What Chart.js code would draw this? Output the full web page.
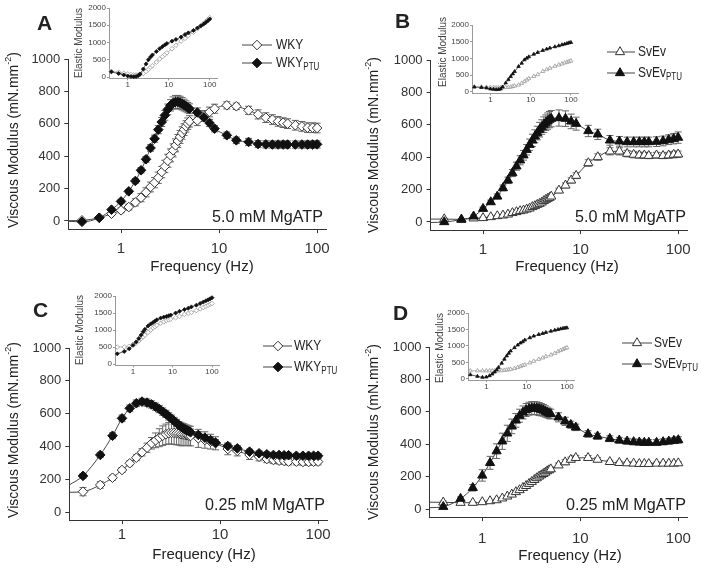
<!DOCTYPE html>
<html>
<head>
<meta charset="utf-8">
<script src="https://cdn.jsdelivr.net/npm/chart.js@4/dist/chart.umd.min.js"></script>
<style>
  body { margin: 0; background: #fff; width: 714px; height: 572px; overflow: hidden; position: relative; }
  canvas { position: absolute; }
</style>
</head>
<body>
<script>
const INK = '#222';
const FONT = '"Liberation Sans", Arial, Helvetica, sans-serif';

// frequencies (Hz) of the main panels
const FREQ = [0.4, 0.6, 0.8, 1, 1.2, 1.4, 1.6, 1.8, 2, 2.2, 2.4, 2.6, 2.8, 3, 3.2, 3.4, 3.6, 3.8, 4, 4.2, 4.4, 4.6, 4.8, 5,
  6, 7, 8, 9, 12, 15, 20, 25, 30, 35, 40, 45, 50, 60, 70, 80, 90, 100];
const X_TICKS = [1, 10, 100];
const Y_TICKS = [0, 200, 400, 600, 800, 1000];
const IN_Y_TICKS = [0, 500, 1000, 1500, 2000];

// A: WKY, 5.0 mM MgATP (viscous modulus, mN.mm-2)
const wkyA = [4, 20, 45, 66, 86, 115, 144, 177, 210, 237, 267, 302, 337, 372, 405, 436, 467, 494, 519, 543, 564, 584, 601, 615,
  621, 652, 673, 693, 714, 708, 683, 658, 638, 626, 615, 607, 601, 591, 584, 576, 576, 574];
const wkyErrA = [5, 8, 10, 15, 18, 22, 25, 28, 30, 32, 35, 35, 38, 40, 40, 40, 40, 40, 40, 38, 36, 35, 35, 35,
  32, 30, 30, 28, 22, 20, 25, 28, 30, 30, 30, 30, 30, 30, 30, 30, 30, 30];
const wkyPtuA = [-5, 20, 70, 121, 183, 247, 313, 381, 451, 508, 564, 611, 652, 689, 714, 728, 735, 735, 730, 724, 716, 708, 700, 693,
  670, 640, 605, 570, 529, 498, 488, 475, 473, 472, 472, 472, 472, 472, 472, 472, 472, 473];
const wkyPtuErrA = [5, 5, 8, 10, 12, 14, 16, 18, 20, 22, 25, 28, 30, 33, 35, 38, 40, 40, 40, 38, 36, 34, 32, 30,
  28, 25, 22, 20, 20, 20, 22, 22, 22, 22, 22, 22, 22, 22, 22, 22, 22, 22];

// B: SvEv, 5.0 mM MgATP
const svevB = [18, 16, 23, 25, 31, 37, 41, 47, 56, 62, 68, 72, 78, 84, 93, 99, 107, 113, 121, 130, 138, 144, 150, 158,
  195, 226, 257, 286, 364, 401, 436, 436, 422, 416, 412, 412, 409, 412, 409, 412, 416, 418];
const svevErrB = [5, 5, 5, 5, 5, 5, 5, 6, 6, 6, 7, 7, 8, 8, 8, 9, 9, 10, 10, 10, 10, 11, 11, 12,
  14, 15, 16, 18, 20, 20, 22, 22, 20, 20, 18, 18, 18, 18, 18, 18, 20, 20];
const svevPtuB = [0, 15, 35, 82, 123, 158, 210, 257, 302, 344, 381, 412, 446, 477, 504, 529, 549, 570, 586, 601, 613, 623, 632, 638,
  642, 638, 621, 607, 562, 541, 504, 498, 494, 494, 494, 494, 494, 496, 500, 508, 514, 521];
const svevPtuErrB = [5, 5, 8, 10, 12, 15, 18, 20, 22, 25, 28, 30, 32, 35, 38, 40, 42, 45, 45, 48, 48, 50, 50, 50,
  50, 48, 45, 40, 35, 32, 30, 30, 30, 30, 30, 30, 30, 30, 30, 30, 32, 35];

// C: WKY, 0.25 mM MgATP
const wkyC = [124, 165, 209, 256, 297, 331, 364, 392, 419, 437, 453, 465, 474, 480, 482, 482, 480, 478, 474, 472, 470, 468, 465, 463,
  449, 439, 429, 419, 384, 372, 348, 337, 323, 317, 313, 311, 307, 307, 305, 305, 307, 307];
const wkyErrC = [25, 20, 15, 15, 15, 18, 22, 28, 35, 45, 55, 60, 62, 65, 68, 70, 70, 70, 70, 68, 65, 62, 60, 60,
  55, 50, 45, 40, 35, 30, 28, 25, 22, 22, 20, 20, 20, 20, 20, 20, 20, 20];
const wkyPtuC = [220, 348, 465, 571, 632, 663, 673, 667, 656, 642, 628, 612, 598, 583, 569, 555, 543, 530, 520, 510, 504, 498, 492, 486,
  470, 453, 439, 423, 402, 388, 368, 358, 352, 348, 348, 346, 346, 343, 343, 343, 343, 343];
const wkyPtuErrC = [15, 15, 18, 20, 20, 20, 20, 22, 22, 22, 22, 22, 22, 22, 22, 22, 22, 22, 22, 20, 20, 20, 20, 20,
  20, 20, 20, 18, 18, 16, 15, 14, 14, 14, 14, 14, 14, 14, 14, 14, 14, 14];

// D: SvEv, 0.25 mM MgATP
const svevD = [41, 39, 39, 43, 49, 55, 66, 78, 90, 105, 117, 131, 143, 156, 168, 180, 191, 201, 209, 217, 225, 234, 240, 246,
  270, 289, 305, 316, 316, 305, 291, 285, 283, 281, 279, 279, 279, 281, 281, 281, 281, 283];
const svevErrD = [8, 6, 5, 5, 5, 5, 6, 6, 7, 7, 8, 8, 9, 9, 10, 10, 10, 11, 11, 12, 12, 12, 12, 13,
  14, 15, 15, 15, 14, 12, 10, 10, 8, 8, 8, 8, 8, 8, 8, 8, 8, 8];
const svevPtuD = [14, 64, 131, 207, 285, 357, 418, 467, 510, 547, 576, 596, 611, 619, 623, 623, 621, 617, 613, 609, 602, 596, 590, 586,
  566, 541, 520, 504, 463, 449, 434, 424, 418, 414, 412, 410, 410, 410, 414, 418, 422, 426];
const svevPtuErrD = [8, 10, 20, 35, 40, 45, 50, 50, 45, 42, 40, 40, 40, 40, 40, 40, 40, 40, 38, 36, 35, 33, 32, 30,
  28, 25, 22, 20, 20, 18, 18, 18, 18, 18, 18, 18, 18, 18, 18, 18, 18, 20];

// where the curves meet the left axis [control, PTU]
const leadA = [2, -2];
const leadB = [18, -3];
const leadC = [120, 165];
const leadD = [42, 8];

// inset: elastic modulus
const IN_FREQ = [0.4, 0.6, 0.8, 1, 1.2, 1.4, 1.6, 1.8, 2, 2.4, 2.8, 3.2, 3.6, 4, 5, 6, 7, 8, 9, 12, 15, 20, 25, 30, 40, 50, 60, 70, 80, 90, 100];
const inWkyA = [160, 140, 110, 90, 70, 60, 60, 60, 70, 100, 160, 220, 280, 330, 430, 520, 590, 650, 700, 820, 920, 1040, 1120, 1200, 1300, 1400, 1480, 1550, 1610, 1670, 1720];
const inWkyPtuA = [150, 100, 60, 30, 15, 10, 15, 40, 90, 230, 380, 500, 580, 640, 740, 820, 880, 930, 970, 1040, 1090, 1160, 1230, 1280, 1350, 1420, 1480, 1530, 1580, 1630, 1680];
const inSvevB = [150, 150, 145, 140, 135, 130, 130, 130, 130, 135, 140, 150, 165, 180, 210, 260, 310, 360, 400, 470, 520, 615, 670, 710, 770, 810, 840, 870, 890, 910, 930];
const inSvevPtuB = [150, 135, 120, 90, 80, 70, 75, 90, 150, 270, 370, 460, 540, 610, 760, 860, 960, 1010, 1050, 1130, 1180, 1240, 1280, 1310, 1350, 1380, 1410, 1430, 1450, 1470, 1480];
const inWkyC = [500, 500, 520, 580, 620, 680, 740, 800, 850, 930, 1000, 1060, 1100, 1140, 1200, 1240, 1280, 1300, 1320, 1360, 1400, 1460, 1490, 1520, 1570, 1620, 1660, 1700, 1730, 1760, 1780];
const inWkyPtuC = [300, 370, 450, 550, 650, 750, 850, 950, 1020, 1120, 1180, 1220, 1260, 1300, 1350, 1380, 1400, 1420, 1440, 1500, 1550, 1600, 1640, 1680, 1730, 1780, 1820, 1860, 1890, 1920, 1950];
const inSvevD = [250, 250, 250, 250, 250, 250, 250, 250, 250, 255, 265, 275, 285, 295, 320, 350, 380, 410, 430, 490, 540, 600, 640, 680, 730, 780, 830, 870, 900, 930, 950];
const inSvevPtuD = [130, 80, 50, 60, 100, 150, 210, 280, 350, 480, 600, 700, 780, 850, 950, 1030, 1090, 1130, 1180, 1250, 1300, 1350, 1380, 1410, 1450, 1480, 1500, 1520, 1535, 1545, 1550];

const MAIN_X = [0.29, 125];
const MAIN_Y = [-50, 1000];
const IN_X = [0.35, 150];
const IN_Y = [-40, 2000];

const panels = [
  { letter: 'A', names: ['WKY', 'WKY'], note: '5.0 mM MgATP', shape: 'rectRot',
    ctl: wkyA, ctlErr: wkyErrA, ptu: wkyPtuA, ptuErr: wkyPtuErrA, lead: leadA,
    box: [0, 0, 357, 286], area: [68.3, 59, 326.6, 229.1], xPad: 7,
    letterAt: [37, 30], yTitleAt: [14, 140], xTitleAt: [202, 267], noteAt: [323, 222],
    legend: { rows: [45, 63], line: [242, 272], mark: 257, text: 276 } },
  { letter: 'B', names: ['SvEv', 'SvEv'], note: '5.0 mM MgATP', shape: 'triangle',
    ctl: svevB, ctlErr: svevErrB, ptu: svevPtuB, ptuErr: svevPtuErrB, lead: leadB,
    box: [357, 0, 357, 286], area: [430.6, 60, 687.6, 230.1], xPad: 7,
    letterAt: [395, 28], yTitleAt: [374, 145], xTitleAt: [567, 267], noteAt: [686, 222],
    legend: { rows: [52, 73], line: [607, 635], mark: 620, text: 638 } },
  { letter: 'C', names: ['WKY', 'WKY'], note: '0.25 mM MgATP', shape: 'rectRot',
    ctl: wkyC, ctlErr: wkyErrC, ptu: wkyPtuC, ptuErr: wkyPtuErrC, lead: leadC,
    box: [0, 286, 357, 286], area: [69.3, 348, 327.6, 520.2], xPad: 2,
    letterAt: [33, 317], yTitleAt: [14, 430], xTitleAt: [204, 555], noteAt: [325, 510],
    legend: { rows: [346, 367], line: [263, 292], mark: 278, text: 294 } },
  { letter: 'D', names: ['SvEv', 'SvEv'], note: '0.25 mM MgATP', shape: 'triangle',
    ctl: svevD, ctlErr: svevErrD, ptu: svevPtuD, ptuErr: svevPtuErrD, lead: leadD,
    box: [357, 286, 357, 286], area: [429.6, 347, 687.8, 517.1], xPad: 9,
    letterAt: [393, 320], yTitleAt: [374, 432], xTitleAt: [570, 556], noteAt: [686, 510],
    legend: { rows: [343, 364], line: [622, 652], mark: 637, text: 654 } }
];

const insets = [
  { ctl: inWkyA, ptu: inWkyPtuA, shape: 'rectRot', box: [68, 0, 160, 96], area: [109, 8, 217, 78.4], titleAt: [79, 43] },
  { ctl: inSvevB, ptu: inSvevPtuB, shape: 'triangle', box: [430, 4, 160, 104], area: [472, 25, 578, 93.3], titleAt: [443, 52] },
  { ctl: inWkyC, ptu: inWkyPtuC, shape: 'rectRot', box: [70, 285, 160, 96], area: [115, 296, 219, 365.4], titleAt: [80, 330] },
  { ctl: inSvevD, ptu: inSvevPtuD, shape: 'triangle', box: [428, 300, 160, 96], area: [468, 313, 574, 380.3], titleAt: [440, 348] }
];

function font(size, bold) {
  return (bold ? 'bold ' : '') + size + 'px ' + FONT;
}

// draw runs of text with different sizes / vertical offsets (super- and subscripts)
function drawRich(ctx, parts, x, y, align, sx) {
  ctx.textBaseline = 'middle';
  ctx.textAlign = 'left';
  let w = 0;
  parts.forEach(p => {
    ctx.font = font(p.s, p.b);
    p.w = ctx.measureText(p.t).width;
    w += p.w;
  });
  let cx = align === 'center' ? -w / 2 : align === 'right' ? -w : 0;
  ctx.save();
  ctx.translate(x, y);
  ctx.scale(sx || 1, 1);
  parts.forEach(p => {
    ctx.font = font(p.s, p.b);
    ctx.fillText(p.t, cx, p.dy || 0);
    cx += p.w;
  });
  ctx.restore();
}

function marker(ctx, shape, x, y, r, fill, stroke) {
  ctx.beginPath();
  if (shape === 'triangle') {
    ctx.moveTo(x, y - r);
    ctx.lineTo(x + r * 0.866, y + r * 0.5);
    ctx.lineTo(x - r * 0.866, y + r * 0.5);
  } else {
    ctx.moveTo(x, y - r);
    ctx.lineTo(x + r, y);
    ctx.lineTo(x, y + r);
    ctx.lineTo(x - r, y);
  }
  ctx.closePath();
  ctx.fillStyle = fill;
  ctx.fill();
  ctx.strokeStyle = stroke;
  ctx.lineWidth = 1;
  ctx.stroke();
}

function zeroPad(s) {
  s.paddingLeft = s.paddingRight = s.paddingTop = s.paddingBottom = 0;
}

const errorBars = {
  id: 'errorBars',
  beforeDatasetsDraw(chart) {
    const ctx = chart.ctx, xs = chart.scales.x, ys = chart.scales.y;
    ctx.save();
    ctx.strokeStyle = '#666';
    ctx.lineWidth = 1;
    chart.data.datasets.forEach(ds => {
      if (!ds.err) return;
      ds.err.forEach((e, i) => {
        const x = xs.getPixelForValue(FREQ[i]);
        const hi = ys.getPixelForValue(ds.vals[i] + e);
        const lo = ys.getPixelForValue(ds.vals[i] - e);
        ctx.beginPath();
        ctx.moveTo(x, hi); ctx.lineTo(x, lo);
        ctx.moveTo(x - 3.5, hi); ctx.lineTo(x + 3.5, hi);
        ctx.moveTo(x - 3.5, lo); ctx.lineTo(x + 3.5, lo);
        ctx.stroke();
      });
    });
    ctx.restore();
  }
};

function panelText(p) {
  return {
    id: 'panelText',
    afterDraw(chart) {
      const ctx = chart.ctx;
      const ox = p.box[0], oy = p.box[1];
      ctx.save();
      ctx.fillStyle = INK;
      ctx.font = font(21, true);
      ctx.textAlign = 'left';
      ctx.textBaseline = 'alphabetic';
      ctx.fillText(p.letter, p.letterAt[0] - ox, p.letterAt[1] - oy);

      ctx.save();
      ctx.translate(p.yTitleAt[0] - ox, p.yTitleAt[1] - oy);
      ctx.rotate(-Math.PI / 2);
      drawRich(ctx, [{ t: 'Viscous Modulus (mN.mm', s: 14 }, { t: '-2', s: 9, dy: -5 }, { t: ')', s: 14 }], 0, 0, 'center');
      ctx.restore();

      drawRich(ctx, [{ t: 'Frequency (Hz)', s: 15 }], p.xTitleAt[0] - ox, p.xTitleAt[1] - oy, 'center');

      ctx.font = font(17);
      ctx.textAlign = 'right';
      ctx.textBaseline = 'alphabetic';
      ctx.save();
      ctx.translate(p.noteAt[0] - ox, p.noteAt[1] - oy);
      ctx.scale(0.95, 1);
      ctx.fillText(p.note, 0, 0);
      ctx.restore();

      const lg = p.legend;
      const r = p.shape === 'triangle' ? 5.3 : 4.8;
      lg.rows.forEach((ry, k) => {
        const y = ry - oy;
        ctx.strokeStyle = '#444';
        ctx.lineWidth = 1;
        ctx.beginPath();
        ctx.moveTo(lg.line[0] - ox, y);
        ctx.lineTo(lg.line[1] - ox, y);
        ctx.stroke();
        marker(ctx, p.shape, lg.mark - ox, y, r, k ? '#111' : '#fff', k ? '#111' : '#333');
        ctx.fillStyle = INK;
        const parts = [{ t: p.names[k], s: 15 }];
        if (k) parts.push({ t: 'PTU', s: 10, dy: 4 });
        drawRich(ctx, parts, lg.text - ox, y, 'left', 0.8);
      });
      ctx.restore();
    }
  };
}

function insetText(p) {
  return {
    id: 'insetText',
    afterDraw(chart) {
      const ctx = chart.ctx;
      ctx.save();
      ctx.fillStyle = '#444';
      ctx.translate(p.titleAt[0] - p.box[0], p.titleAt[1] - p.box[1]);
      ctx.rotate(-Math.PI / 2);
      drawRich(ctx, [{ t: 'Elastic Modulus', s: 10 }], 0, 0, 'center');
      ctx.restore();
    }
  };
}

function makeCanvas(box) {
  const cv = document.createElement('canvas');
  cv.width = box[2];
  cv.height = box[3];
  cv.style.left = box[0] + 'px';
  cv.style.top = box[1] + 'px';
  document.body.appendChild(cv);
  return cv;
}

function axes(box, area, xr, yr, yTicks, o) {
  const yW = area[0] - box[0];
  const xH = box[1] + box[3] - area[3];
  return {
    x: {
      type: 'logarithmic', min: xr[0], max: xr[1],
      afterBuildTicks: s => { s.ticks = X_TICKS.map(v => ({ value: v })); },
      afterFit: s => { s.height = xH; zeroPad(s); },
      ticks: { autoSkip: false, maxRotation: 0, padding: o.xPad, color: o.tickColor,
        font: { family: FONT, size: o.xFont }, callback: v => String(v) },
      grid: { drawOnChartArea: false, drawTicks: true, tickLength: o.tickLen, color: o.axisColor },
      border: { display: true, color: o.axisColor, width: 1 }
    },
    y: {
      type: 'linear', min: yr[0], max: yr[1],
      afterBuildTicks: s => { s.ticks = yTicks.map(v => ({ value: v })); },
      afterFit: s => { s.width = yW; zeroPad(s); },
      ticks: { padding: o.yPad, color: o.tickColor, font: { family: FONT, size: o.yFont }, callback: v => String(v) },
      grid: { drawOnChartArea: false, drawTicks: true, tickLength: o.tickLen, color: o.axisColor },
      border: { display: true, color: o.axisColor, width: 1 }
    }
  };
}

function baseOptions(box, area, scales) {
  return {
    responsive: false,
    animation: false,
    events: [],
    layout: {
      autoPadding: false,
      padding: { top: area[1] - box[1], right: box[0] + box[2] - area[2], left: 0, bottom: 0 }
    },
    plugins: { legend: { display: false }, tooltip: { enabled: false } },
    scales
  };
}

function mainSeries(vals, err, lead, shape, fill, stroke) {
  const r = shape === 'triangle' ? 5.3 : 4.8;
  return {
    data: [{ x: MAIN_X[0], y: lead }].concat(FREQ.map((f, i) => ({ x: f, y: vals[i] }))),
    vals: vals,
    err: err,
    borderColor: '#444',
    borderWidth: 1,
    cubicInterpolationMode: 'monotone',
    pointStyle: shape,
    pointRadius: c => (c.dataIndex === 0 ? 0 : r),
    pointBackgroundColor: fill,
    pointBorderColor: stroke,
    pointBorderWidth: 1,
    clip: false
  };
}

function insetSeries(vals, shape, fill, stroke, line, r) {
  return {
    data: IN_FREQ.map((f, i) => ({ x: f, y: vals[i] })),
    borderColor: line,
    borderWidth: 0.8,
    pointStyle: shape,
    pointRadius: r,
    pointBackgroundColor: fill,
    pointBorderColor: stroke,
    pointBorderWidth: 0.8,
    clip: false
  };
}

panels.forEach(p => {
  const cv = makeCanvas(p.box);
  new Chart(cv, {
    type: 'line',
    data: {
      datasets: [
        mainSeries(p.ptu, p.ptuErr, p.lead[1], p.shape, '#111', '#111'),
        mainSeries(p.ctl, p.ctlErr, p.lead[0], p.shape, '#fff', '#333')
      ]
    },
    options: baseOptions(p.box, p.area, axes(p.box, p.area, MAIN_X, MAIN_Y, Y_TICKS,
      { xPad: p.xPad, yPad: 4, tickLen: 4, xFont: 15, yFont: 13, tickColor: '#333', axisColor: '#333' })),
    plugins: [errorBars, panelText(p)]
  });
});

insets.forEach(p => {
  const cv = makeCanvas(p.box);
  new Chart(cv, {
    type: 'line',
    data: {
      datasets: [
        insetSeries(p.ptu, p.shape, '#111', '#111', '#333', 2),
        insetSeries(p.ctl, p.shape, '#fff', '#999', '#aaa', 2.3)
      ]
    },
    options: baseOptions(p.box, p.area, axes(p.box, p.area, IN_X, IN_Y, IN_Y_TICKS,
      { xPad: 0, yPad: 1, tickLen: 2, xFont: 8, yFont: 8, tickColor: '#444', axisColor: '#999' })),
    plugins: [insetText(p)]
  });
});
</script>
</body>
</html>
